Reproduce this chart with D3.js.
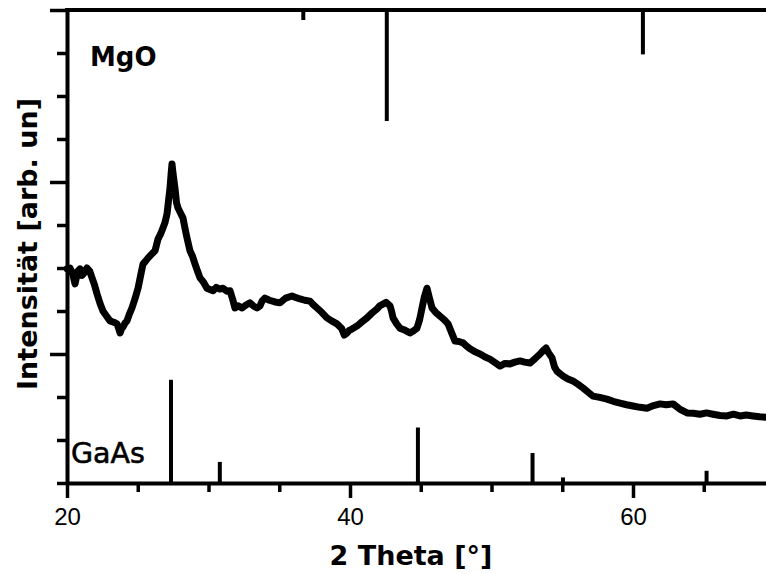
<!DOCTYPE html>
<html>
<head>
<meta charset="utf-8">
<script src="https://cdn.jsdelivr.net/npm/d3@7"></script>
<style>
  body { margin: 0; background: #fff; }
  svg { display: block; font-family: "DejaVu Sans", Verdana, sans-serif; }
</style>
</head>
<body>
<div id="chart"></div>
<script>
// 2 theta in degrees, measured intensity in arbitrary units
const theta = [
  20.00, 20.21, 20.40, 20.57, 20.75, 20.92, 21.06, 21.20, 21.41, 21.60, 21.77, 21.95, 22.12, 22.33, 22.54,
  22.80, 23.04, 23.30, 23.53, 23.65, 23.75, 23.85, 23.96, 24.10, 24.24, 24.40, 24.59, 24.80, 25.02, 25.20,
  25.37, 25.55, 25.72, 25.95, 26.22, 26.43, 26.60, 26.78, 26.92, 27.07, 27.18, 27.28, 27.36, 27.42, 27.50,
  27.63, 27.74, 27.84, 28.02, 28.20, 28.34, 28.48, 28.69, 28.86, 29.05, 29.22, 29.40, 29.65, 29.89, 30.10,
  30.32, 30.55, 30.80, 31.02, 31.30, 31.52, 31.70, 31.87, 32.10, 32.37, 32.65, 32.93, 33.20, 33.43, 33.64,
  33.80, 33.99, 34.30, 34.70, 35.05, 35.45, 35.90, 36.20, 36.47, 36.80, 37.17, 37.40, 37.67, 38.00, 38.37,
  38.70, 39.08, 39.40, 39.60, 39.79, 39.95, 40.14, 40.49, 40.85, 41.20, 41.55, 41.91, 42.10, 42.33, 42.55,
  42.83, 42.95, 43.04, 43.30, 43.53, 43.90, 44.24, 44.50, 44.73, 44.92, 45.09, 45.25, 45.44, 45.60, 45.80,
  46.05, 46.36, 46.65, 46.93, 47.20, 47.42, 47.70, 47.99, 48.25, 48.48, 48.85, 49.19, 49.55, 49.89, 50.25,
  50.60, 50.95, 51.31, 51.65, 52.01, 52.35, 52.72, 53.10, 53.43, 53.65, 53.85, 54.05, 54.28, 54.45, 54.63,
  54.85, 55.05, 55.40, 55.76, 56.10, 56.47, 56.80, 57.17, 57.65, 58.16, 58.60, 59.08, 59.55, 60.00, 60.50,
  60.99, 61.45, 61.91, 62.35, 62.83, 63.30, 63.82, 64.25, 64.73, 65.20, 65.65, 66.15, 66.64, 67.10, 67.56,
  68.00, 68.48, 68.95, 69.40
];
const intensity = [
  198, 200, 186, 163, 192, 198, 183, 188, 200, 193, 177, 160, 140, 118, 100,
  88, 77, 74, 70, 60, 49, 58, 63, 72, 77, 92, 107, 128, 153, 182,
  209, 216, 223, 231, 240, 267, 278, 293, 305, 326, 358, 386, 420, 442, 418,
  386, 352, 340, 328, 316, 292, 270, 240, 228, 209, 193, 177, 167, 153, 150,
  147, 155, 151, 153, 146, 147, 128, 107, 112, 107, 114, 119, 111, 107, 112,
  124, 130, 125, 121, 119, 130, 135, 131, 128, 125, 123, 115, 107, 97, 84,
  77, 70, 60, 44, 49, 55, 58, 65, 75, 84, 95, 105, 112, 116, 120,
  112, 98, 84, 70, 60, 55, 49, 54, 60, 80, 107, 132, 153, 132, 107,
  97, 88, 80, 70, 48, 30, 29, 26, 18, 12, 5, 0, -7, -12, -20,
  -28, -22, -23, -19, -16, -19, -21, -10, 0, 8, 14, 2, -9, -30, -40,
  -46, -51, -58, -63, -70, -79, -88, -98, -101, -105, -110, -114, -118, -121, -124,
  -126, -120, -116, -118, -116, -128, -137, -138, -140, -137, -140, -143, -144, -140, -144,
  -142, -144, -146, -147
];

// reference stick patterns: position in 2 theta and relative intensity
const mgoTheta = [36.7, 42.6, 60.7];
const mgoRel = [9, 100, 40];
const gaasTheta = [27.35, 30.8, 44.8, 52.9, 55.05, 65.2];
const gaasRel = [93, 19, 50, 27, 5, 11];

const xTicks = [20, 25, 30, 35, 40, 45, 50, 55, 60, 65, 70];
const xLabels = [20, 40, 60];
const yTicks = [-300, -200, -100, 0, 100, 200, 300, 400, 500, 600, 700, 800];
const yMajor = [0, 400, 800];

const width = 766, height = 574;
const margin = {top: 10, left: 67, bottom: 91};

const svg = d3.select('#chart').append('svg')
    .attr('width', width)
    .attr('height', height);

const x = d3.scaleLinear().domain([20, 70]).range([margin.left, 774.5]);
const y = d3.scaleLinear().domain([-300, 800]).range([height - margin.bottom, margin.top]);
const stick = d3.scaleLinear().domain([0, 100]).range([0, 111]);

const points = theta.map((t, i) => [t, intensity[i]]);

// measured pattern
svg.append('path')
    .datum(points)
    .attr('fill', 'none')
    .attr('stroke', '#000')
    .attr('stroke-width', 7)
    .attr('stroke-linejoin', 'round')
    .attr('stroke-linecap', 'round')
    .attr('d', d3.line().x(d => x(d[0])).y(d => y(d[1])));

// MgO sticks hanging from the top
svg.append('g').selectAll('line')
    .data(mgoTheta)
    .join('line')
    .attr('x1', d => x(d)).attr('x2', d => x(d))
    .attr('y1', y(800))
    .attr('y2', (d, i) => y(800) + stick(mgoRel[i]))
    .attr('stroke', '#000')
    .attr('stroke-width', 4);

// GaAs sticks standing on the bottom axis
svg.append('g').selectAll('line')
    .data(gaasTheta)
    .join('line')
    .attr('x1', d => x(d)).attr('x2', d => x(d))
    .attr('y1', y(-300))
    .attr('y2', (d, i) => y(-300) - stick(gaasRel[i]))
    .attr('stroke', '#000')
    .attr('stroke-width', 4);

// bottom axis
const xAxis = svg.append('g')
    .attr('transform', `translate(0,${y(-300)})`)
    .call(d3.axisBottom(x).tickValues(xTicks).tickSizeOuter(0).tickFormat(''));
xAxis.select('.domain').attr('stroke-width', 4);
xAxis.selectAll('.tick line')
    .attr('stroke-width', 3.5)
    .attr('y2', d => xLabels.includes(d) ? 15 : 9);
xAxis.selectAll('.tick')
    .filter(d => xLabels.includes(d))
    .append('text')
    .attr('y', 42)
    .attr('fill', '#000')
    .attr('text-anchor', 'middle')
    .style('font-size', '24px')
    .text(d => d);

// left axis
const yAxis = svg.append('g')
    .attr('transform', `translate(${margin.left},0)`)
    .call(d3.axisLeft(y).tickValues(yTicks).tickSizeOuter(0).tickFormat(''));
yAxis.select('.domain').attr('stroke-width', 4);
yAxis.selectAll('.tick line')
    .attr('stroke-width', 3.5)
    .attr('x2', d => yMajor.includes(d) ? -17 : -10);

// top frame line
svg.append('line')
    .attr('x1', x(20) - 2).attr('x2', width)
    .attr('y1', y(800)).attr('y2', y(800))
    .attr('stroke', '#000')
    .attr('stroke-width', 4);

// labels
svg.append('text')
    .attr('x', 90).attr('y', 66)
    .style('font-size', '26px').style('font-weight', 'bold')
    .text('MgO');

svg.append('text')
    .attr('x', 71).attr('y', 463)
    .style('font-size', '28.5px')
    .style('stroke', '#000').style('stroke-width', 0.6)
    .text('GaAs');

svg.append('text')
    .attr('x', 411).attr('y', 565)
    .attr('text-anchor', 'middle')
    .style('font-size', '27px').style('font-weight', 'bold')
    .text('2 Theta [°]');

svg.append('text')
    .attr('transform', 'translate(37,244) rotate(-90)')
    .attr('text-anchor', 'middle')
    .style('font-size', '27px').style('font-weight', 'bold')
    .text('Intensität [arb. un]');
</script>
</body>
</html>
